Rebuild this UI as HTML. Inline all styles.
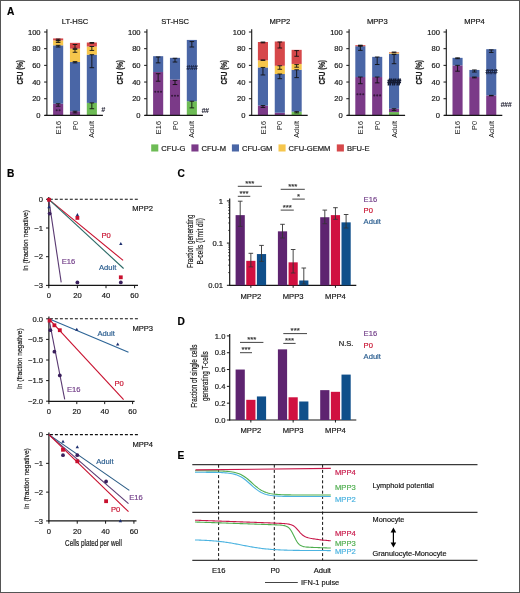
<!DOCTYPE html>
<html><head><meta charset="utf-8"><style>
html,body{margin:0;padding:0;background:#fff;}
body{width:520px;height:593px;overflow:hidden;}
svg{display:block;font-family:"Liberation Sans", sans-serif;will-change:transform;}
</style></head><body>
<svg width="520" height="593" viewBox="0 0 520 593">
<rect x="0" y="0" width="520" height="593" fill="#fff"/>
<text x="75.10" y="23.70" font-size="7.6" text-anchor="middle" fill="#161616" stroke="#161616" stroke-width="0.18" font-weight="normal" >LT-HSC</text>
<line x1="46.90" y1="29.20" x2="46.90" y2="115.90" stroke="#161616" stroke-width="1.1" />
<line x1="44.10" y1="115.40" x2="46.90" y2="115.40" stroke="#161616" stroke-width="1" />
<text x="40.60" y="118.00" font-size="7.6" text-anchor="end" fill="#161616" stroke="#161616" stroke-width="0.18" font-weight="normal" >0</text>
<line x1="44.10" y1="98.72" x2="46.90" y2="98.72" stroke="#161616" stroke-width="1" />
<text x="40.60" y="101.32" font-size="7.6" text-anchor="end" fill="#161616" stroke="#161616" stroke-width="0.18" font-weight="normal" >20</text>
<line x1="44.10" y1="82.04" x2="46.90" y2="82.04" stroke="#161616" stroke-width="1" />
<text x="40.60" y="84.64" font-size="7.6" text-anchor="end" fill="#161616" stroke="#161616" stroke-width="0.18" font-weight="normal" >40</text>
<line x1="44.10" y1="65.36" x2="46.90" y2="65.36" stroke="#161616" stroke-width="1" />
<text x="40.60" y="67.96" font-size="7.6" text-anchor="end" fill="#161616" stroke="#161616" stroke-width="0.18" font-weight="normal" >60</text>
<line x1="44.10" y1="48.68" x2="46.90" y2="48.68" stroke="#161616" stroke-width="1" />
<text x="40.60" y="51.28" font-size="7.6" text-anchor="end" fill="#161616" stroke="#161616" stroke-width="0.18" font-weight="normal" >80</text>
<line x1="44.10" y1="32.00" x2="46.90" y2="32.00" stroke="#161616" stroke-width="1" />
<text x="40.60" y="34.60" font-size="7.6" text-anchor="end" fill="#161616" stroke="#161616" stroke-width="0.18" font-weight="normal" >100</text>
<text transform="translate(22.50,72.30) rotate(-90)" x="0" y="0" font-size="8.6" text-anchor="middle" fill="#161616" stroke="#161616" stroke-width="0.18" font-weight="bold" textLength="24.4" lengthAdjust="spacingAndGlyphs">CFU (%)</text>
<rect x="53.10" y="103.72" width="10.10" height="11.68" fill="#7b3a88"/>
<rect x="53.10" y="45.34" width="10.10" height="58.38" fill="#4a66a6"/>
<rect x="53.10" y="40.34" width="10.10" height="5.00" fill="#f6c64c"/>
<rect x="53.10" y="38.42" width="10.10" height="1.92" fill="#d6484a"/>
<rect x="69.95" y="111.23" width="10.10" height="4.17" fill="#7b3a88"/>
<rect x="69.95" y="62.02" width="10.10" height="49.21" fill="#4a66a6"/>
<rect x="69.95" y="48.68" width="10.10" height="13.34" fill="#f6c64c"/>
<rect x="69.95" y="42.84" width="10.10" height="5.84" fill="#d6484a"/>
<rect x="86.80" y="102.89" width="10.10" height="12.51" fill="#6dbb55"/>
<rect x="86.80" y="54.68" width="10.10" height="48.21" fill="#4a66a6"/>
<rect x="86.80" y="46.51" width="10.10" height="8.17" fill="#f6c64c"/>
<rect x="86.80" y="42.51" width="10.10" height="4.00" fill="#d6484a"/>
<line x1="58.15" y1="39.09" x2="58.15" y2="40.34" stroke="#111" stroke-width="0.9" />
<line x1="55.85" y1="39.09" x2="60.45" y2="39.09" stroke="#111" stroke-width="0.9" />
<line x1="55.85" y1="40.34" x2="60.45" y2="40.34" stroke="#111" stroke-width="0.9" />
<line x1="58.15" y1="40.76" x2="58.15" y2="42.43" stroke="#111" stroke-width="0.9" />
<line x1="55.85" y1="40.76" x2="60.45" y2="40.76" stroke="#111" stroke-width="0.9" />
<line x1="55.85" y1="42.43" x2="60.45" y2="42.43" stroke="#111" stroke-width="0.9" />
<line x1="58.15" y1="45.34" x2="58.15" y2="47.01" stroke="#111" stroke-width="0.9" />
<line x1="55.85" y1="45.34" x2="60.45" y2="45.34" stroke="#111" stroke-width="0.9" />
<line x1="55.85" y1="47.01" x2="60.45" y2="47.01" stroke="#111" stroke-width="0.9" />
<line x1="58.15" y1="103.72" x2="58.15" y2="106.23" stroke="#111" stroke-width="0.9" />
<line x1="55.85" y1="103.72" x2="60.45" y2="103.72" stroke="#111" stroke-width="0.9" />
<line x1="55.85" y1="106.23" x2="60.45" y2="106.23" stroke="#111" stroke-width="0.9" />
<line x1="75.00" y1="44.51" x2="75.00" y2="48.35" stroke="#111" stroke-width="0.9" />
<line x1="72.70" y1="44.51" x2="77.30" y2="44.51" stroke="#111" stroke-width="0.9" />
<line x1="72.70" y1="48.35" x2="77.30" y2="48.35" stroke="#111" stroke-width="0.9" />
<line x1="75.00" y1="49.43" x2="75.00" y2="52.27" stroke="#111" stroke-width="0.9" />
<line x1="72.70" y1="49.43" x2="77.30" y2="49.43" stroke="#111" stroke-width="0.9" />
<line x1="72.70" y1="52.27" x2="77.30" y2="52.27" stroke="#111" stroke-width="0.9" />
<line x1="75.00" y1="61.61" x2="75.00" y2="62.86" stroke="#111" stroke-width="0.9" />
<line x1="72.70" y1="61.61" x2="77.30" y2="61.61" stroke="#111" stroke-width="0.9" />
<line x1="72.70" y1="62.86" x2="77.30" y2="62.86" stroke="#111" stroke-width="0.9" />
<line x1="75.00" y1="111.23" x2="75.00" y2="112.90" stroke="#111" stroke-width="0.9" />
<line x1="72.70" y1="111.23" x2="77.30" y2="111.23" stroke="#111" stroke-width="0.9" />
<line x1="72.70" y1="112.90" x2="77.30" y2="112.90" stroke="#111" stroke-width="0.9" />
<line x1="91.85" y1="42.51" x2="91.85" y2="43.26" stroke="#111" stroke-width="0.9" />
<line x1="89.55" y1="42.51" x2="94.15" y2="42.51" stroke="#111" stroke-width="0.9" />
<line x1="89.55" y1="43.26" x2="94.15" y2="43.26" stroke="#111" stroke-width="0.9" />
<line x1="91.85" y1="46.51" x2="91.85" y2="50.43" stroke="#111" stroke-width="0.9" />
<line x1="89.55" y1="46.51" x2="94.15" y2="46.51" stroke="#111" stroke-width="0.9" />
<line x1="89.55" y1="50.43" x2="94.15" y2="50.43" stroke="#111" stroke-width="0.9" />
<line x1="91.85" y1="54.68" x2="91.85" y2="67.70" stroke="#111" stroke-width="0.9" />
<line x1="89.55" y1="54.68" x2="94.15" y2="54.68" stroke="#111" stroke-width="0.9" />
<line x1="89.55" y1="67.70" x2="94.15" y2="67.70" stroke="#111" stroke-width="0.9" />
<line x1="91.85" y1="102.89" x2="91.85" y2="108.73" stroke="#111" stroke-width="0.9" />
<line x1="89.55" y1="102.89" x2="94.15" y2="102.89" stroke="#111" stroke-width="0.9" />
<line x1="89.55" y1="108.73" x2="94.15" y2="108.73" stroke="#111" stroke-width="0.9" />
<circle cx="56.70" cy="110.30" r="1.05" fill="#2a1430" opacity="0.85"/>
<circle cx="59.60" cy="110.30" r="1.05" fill="#2a1430" opacity="0.85"/>
<circle cx="75.00" cy="112.30" r="1.05" fill="#2a1430" opacity="0.85"/>
<text x="101.20" y="112.10" font-size="7.0" fill="#222233" stroke="#222233" stroke-width="0.05" font-weight="bold" font-style="italic" letter-spacing="-0.3">#</text>
<line x1="44.70" y1="115.40" x2="102.90" y2="115.40" stroke="#161616" stroke-width="1.2" />
<text transform="translate(60.75,121) rotate(-90)" font-size="7.4" text-anchor="end" fill="#161616">E16</text>
<text transform="translate(77.60,121) rotate(-90)" font-size="7.4" text-anchor="end" fill="#161616">P0</text>
<text transform="translate(94.45,121) rotate(-90)" font-size="7.4" text-anchor="end" fill="#161616">Adult</text>
<text x="175.10" y="23.70" font-size="7.6" text-anchor="middle" fill="#161616" stroke="#161616" stroke-width="0.18" font-weight="normal" >ST-HSC</text>
<line x1="146.90" y1="29.20" x2="146.90" y2="115.90" stroke="#161616" stroke-width="1.1" />
<line x1="144.10" y1="115.40" x2="146.90" y2="115.40" stroke="#161616" stroke-width="1" />
<text x="140.60" y="118.00" font-size="7.6" text-anchor="end" fill="#161616" stroke="#161616" stroke-width="0.18" font-weight="normal" >0</text>
<line x1="144.10" y1="98.72" x2="146.90" y2="98.72" stroke="#161616" stroke-width="1" />
<text x="140.60" y="101.32" font-size="7.6" text-anchor="end" fill="#161616" stroke="#161616" stroke-width="0.18" font-weight="normal" >20</text>
<line x1="144.10" y1="82.04" x2="146.90" y2="82.04" stroke="#161616" stroke-width="1" />
<text x="140.60" y="84.64" font-size="7.6" text-anchor="end" fill="#161616" stroke="#161616" stroke-width="0.18" font-weight="normal" >40</text>
<line x1="144.10" y1="65.36" x2="146.90" y2="65.36" stroke="#161616" stroke-width="1" />
<text x="140.60" y="67.96" font-size="7.6" text-anchor="end" fill="#161616" stroke="#161616" stroke-width="0.18" font-weight="normal" >60</text>
<line x1="144.10" y1="48.68" x2="146.90" y2="48.68" stroke="#161616" stroke-width="1" />
<text x="140.60" y="51.28" font-size="7.6" text-anchor="end" fill="#161616" stroke="#161616" stroke-width="0.18" font-weight="normal" >80</text>
<line x1="144.10" y1="32.00" x2="146.90" y2="32.00" stroke="#161616" stroke-width="1" />
<text x="140.60" y="34.60" font-size="7.6" text-anchor="end" fill="#161616" stroke="#161616" stroke-width="0.18" font-weight="normal" >100</text>
<text transform="translate(122.50,72.30) rotate(-90)" x="0" y="0" font-size="8.6" text-anchor="middle" fill="#161616" stroke="#161616" stroke-width="0.18" font-weight="bold" textLength="24.4" lengthAdjust="spacingAndGlyphs">CFU (%)</text>
<rect x="153.10" y="72.03" width="10.10" height="43.37" fill="#7b3a88"/>
<rect x="153.10" y="56.19" width="10.10" height="15.85" fill="#4a66a6"/>
<rect x="169.95" y="79.54" width="10.10" height="35.86" fill="#7b3a88"/>
<rect x="169.95" y="57.85" width="10.10" height="21.68" fill="#4a66a6"/>
<rect x="186.80" y="101.22" width="10.10" height="14.18" fill="#6dbb55"/>
<rect x="186.80" y="39.92" width="10.10" height="61.30" fill="#4a66a6"/>
<line x1="158.15" y1="57.02" x2="158.15" y2="62.86" stroke="#111" stroke-width="0.9" />
<line x1="155.85" y1="57.02" x2="160.45" y2="57.02" stroke="#111" stroke-width="0.9" />
<line x1="155.85" y1="62.86" x2="160.45" y2="62.86" stroke="#111" stroke-width="0.9" />
<line x1="158.15" y1="73.70" x2="158.15" y2="81.21" stroke="#111" stroke-width="0.9" />
<line x1="155.85" y1="73.70" x2="160.45" y2="73.70" stroke="#111" stroke-width="0.9" />
<line x1="155.85" y1="81.21" x2="160.45" y2="81.21" stroke="#111" stroke-width="0.9" />
<line x1="175.00" y1="58.27" x2="175.00" y2="62.02" stroke="#111" stroke-width="0.9" />
<line x1="172.70" y1="58.27" x2="177.30" y2="58.27" stroke="#111" stroke-width="0.9" />
<line x1="172.70" y1="62.02" x2="177.30" y2="62.02" stroke="#111" stroke-width="0.9" />
<line x1="175.00" y1="80.37" x2="175.00" y2="84.54" stroke="#111" stroke-width="0.9" />
<line x1="172.70" y1="80.37" x2="177.30" y2="80.37" stroke="#111" stroke-width="0.9" />
<line x1="172.70" y1="84.54" x2="177.30" y2="84.54" stroke="#111" stroke-width="0.9" />
<line x1="191.85" y1="41.59" x2="191.85" y2="47.01" stroke="#111" stroke-width="0.9" />
<line x1="189.55" y1="41.59" x2="194.15" y2="41.59" stroke="#111" stroke-width="0.9" />
<line x1="189.55" y1="47.01" x2="194.15" y2="47.01" stroke="#111" stroke-width="0.9" />
<line x1="191.85" y1="101.22" x2="191.85" y2="107.89" stroke="#111" stroke-width="0.9" />
<line x1="189.55" y1="101.22" x2="194.15" y2="101.22" stroke="#111" stroke-width="0.9" />
<line x1="189.55" y1="107.89" x2="194.15" y2="107.89" stroke="#111" stroke-width="0.9" />
<circle cx="155.25" cy="91.80" r="1.05" fill="#2a1430" opacity="0.85"/>
<circle cx="158.15" cy="91.80" r="1.05" fill="#2a1430" opacity="0.85"/>
<circle cx="161.05" cy="91.80" r="1.05" fill="#2a1430" opacity="0.85"/>
<circle cx="172.10" cy="95.80" r="1.05" fill="#2a1430" opacity="0.85"/>
<circle cx="175.00" cy="95.80" r="1.05" fill="#2a1430" opacity="0.85"/>
<circle cx="177.90" cy="95.80" r="1.05" fill="#2a1430" opacity="0.85"/>
<text x="191.85" y="70.10" font-size="7.2" text-anchor="middle" fill="#141a33" stroke="#141a33" stroke-width="0.05" font-weight="bold" font-style="italic" letter-spacing="-0.2">###</text>
<text x="201.40" y="112.70" font-size="7.0" fill="#222233" stroke="#222233" stroke-width="0.05" font-weight="bold" font-style="italic" letter-spacing="-0.3">##</text>
<line x1="144.70" y1="115.40" x2="202.90" y2="115.40" stroke="#161616" stroke-width="1.2" />
<text transform="translate(160.75,121) rotate(-90)" font-size="7.4" text-anchor="end" fill="#161616">E16</text>
<text transform="translate(177.60,121) rotate(-90)" font-size="7.4" text-anchor="end" fill="#161616">P0</text>
<text transform="translate(194.45,121) rotate(-90)" font-size="7.4" text-anchor="end" fill="#161616">Adult</text>
<text x="279.90" y="23.70" font-size="7.6" text-anchor="middle" fill="#161616" stroke="#161616" stroke-width="0.18" font-weight="normal" >MPP2</text>
<line x1="251.70" y1="29.20" x2="251.70" y2="115.90" stroke="#161616" stroke-width="1.1" />
<line x1="248.90" y1="115.40" x2="251.70" y2="115.40" stroke="#161616" stroke-width="1" />
<text x="245.40" y="118.00" font-size="7.6" text-anchor="end" fill="#161616" stroke="#161616" stroke-width="0.18" font-weight="normal" >0</text>
<line x1="248.90" y1="98.72" x2="251.70" y2="98.72" stroke="#161616" stroke-width="1" />
<text x="245.40" y="101.32" font-size="7.6" text-anchor="end" fill="#161616" stroke="#161616" stroke-width="0.18" font-weight="normal" >20</text>
<line x1="248.90" y1="82.04" x2="251.70" y2="82.04" stroke="#161616" stroke-width="1" />
<text x="245.40" y="84.64" font-size="7.6" text-anchor="end" fill="#161616" stroke="#161616" stroke-width="0.18" font-weight="normal" >40</text>
<line x1="248.90" y1="65.36" x2="251.70" y2="65.36" stroke="#161616" stroke-width="1" />
<text x="245.40" y="67.96" font-size="7.6" text-anchor="end" fill="#161616" stroke="#161616" stroke-width="0.18" font-weight="normal" >60</text>
<line x1="248.90" y1="48.68" x2="251.70" y2="48.68" stroke="#161616" stroke-width="1" />
<text x="245.40" y="51.28" font-size="7.6" text-anchor="end" fill="#161616" stroke="#161616" stroke-width="0.18" font-weight="normal" >80</text>
<line x1="248.90" y1="32.00" x2="251.70" y2="32.00" stroke="#161616" stroke-width="1" />
<text x="245.40" y="34.60" font-size="7.6" text-anchor="end" fill="#161616" stroke="#161616" stroke-width="0.18" font-weight="normal" >100</text>
<text transform="translate(227.30,72.30) rotate(-90)" x="0" y="0" font-size="8.6" text-anchor="middle" fill="#161616" stroke="#161616" stroke-width="0.18" font-weight="bold" textLength="24.4" lengthAdjust="spacingAndGlyphs">CFU (%)</text>
<rect x="257.90" y="105.56" width="10.10" height="9.84" fill="#7b3a88"/>
<rect x="257.90" y="67.45" width="10.10" height="38.11" fill="#4a66a6"/>
<rect x="257.90" y="60.36" width="10.10" height="7.09" fill="#f6c64c"/>
<rect x="257.90" y="42.01" width="10.10" height="18.35" fill="#d6484a"/>
<rect x="274.75" y="112.73" width="10.10" height="2.67" fill="#7b3a88"/>
<rect x="274.75" y="74.03" width="10.10" height="38.70" fill="#4a66a6"/>
<rect x="274.75" y="65.78" width="10.10" height="8.26" fill="#f6c64c"/>
<rect x="274.75" y="41.51" width="10.10" height="24.27" fill="#d6484a"/>
<rect x="291.60" y="111.65" width="10.10" height="3.75" fill="#6dbb55"/>
<rect x="291.60" y="69.78" width="10.10" height="41.87" fill="#4a66a6"/>
<rect x="291.60" y="63.94" width="10.10" height="5.84" fill="#f6c64c"/>
<rect x="291.60" y="49.85" width="10.10" height="14.09" fill="#d6484a"/>
<line x1="262.95" y1="42.01" x2="262.95" y2="42.84" stroke="#111" stroke-width="0.9" />
<line x1="260.65" y1="42.01" x2="265.25" y2="42.01" stroke="#111" stroke-width="0.9" />
<line x1="260.65" y1="42.84" x2="265.25" y2="42.84" stroke="#111" stroke-width="0.9" />
<line x1="262.95" y1="59.94" x2="262.95" y2="60.36" stroke="#111" stroke-width="0.9" />
<line x1="260.65" y1="59.94" x2="265.25" y2="59.94" stroke="#111" stroke-width="0.9" />
<line x1="260.65" y1="60.36" x2="265.25" y2="60.36" stroke="#111" stroke-width="0.9" />
<line x1="262.95" y1="67.45" x2="262.95" y2="74.95" stroke="#111" stroke-width="0.9" />
<line x1="260.65" y1="67.45" x2="265.25" y2="67.45" stroke="#111" stroke-width="0.9" />
<line x1="260.65" y1="74.95" x2="265.25" y2="74.95" stroke="#111" stroke-width="0.9" />
<line x1="262.95" y1="105.56" x2="262.95" y2="107.48" stroke="#111" stroke-width="0.9" />
<line x1="260.65" y1="105.56" x2="265.25" y2="105.56" stroke="#111" stroke-width="0.9" />
<line x1="260.65" y1="107.48" x2="265.25" y2="107.48" stroke="#111" stroke-width="0.9" />
<line x1="279.80" y1="42.01" x2="279.80" y2="48.01" stroke="#111" stroke-width="0.9" />
<line x1="277.50" y1="42.01" x2="282.10" y2="42.01" stroke="#111" stroke-width="0.9" />
<line x1="277.50" y1="48.01" x2="282.10" y2="48.01" stroke="#111" stroke-width="0.9" />
<line x1="279.80" y1="65.78" x2="279.80" y2="69.28" stroke="#111" stroke-width="0.9" />
<line x1="277.50" y1="65.78" x2="282.10" y2="65.78" stroke="#111" stroke-width="0.9" />
<line x1="277.50" y1="69.28" x2="282.10" y2="69.28" stroke="#111" stroke-width="0.9" />
<line x1="279.80" y1="74.03" x2="279.80" y2="78.70" stroke="#111" stroke-width="0.9" />
<line x1="277.50" y1="74.03" x2="282.10" y2="74.03" stroke="#111" stroke-width="0.9" />
<line x1="277.50" y1="78.70" x2="282.10" y2="78.70" stroke="#111" stroke-width="0.9" />
<line x1="296.65" y1="50.60" x2="296.65" y2="56.27" stroke="#111" stroke-width="0.9" />
<line x1="294.35" y1="50.60" x2="298.95" y2="50.60" stroke="#111" stroke-width="0.9" />
<line x1="294.35" y1="56.27" x2="298.95" y2="56.27" stroke="#111" stroke-width="0.9" />
<line x1="296.65" y1="64.61" x2="296.65" y2="67.19" stroke="#111" stroke-width="0.9" />
<line x1="294.35" y1="64.61" x2="298.95" y2="64.61" stroke="#111" stroke-width="0.9" />
<line x1="294.35" y1="67.19" x2="298.95" y2="67.19" stroke="#111" stroke-width="0.9" />
<line x1="296.65" y1="69.78" x2="296.65" y2="77.62" stroke="#111" stroke-width="0.9" />
<line x1="294.35" y1="69.78" x2="298.95" y2="69.78" stroke="#111" stroke-width="0.9" />
<line x1="294.35" y1="77.62" x2="298.95" y2="77.62" stroke="#111" stroke-width="0.9" />
<line x1="296.65" y1="111.65" x2="296.65" y2="112.90" stroke="#111" stroke-width="0.9" />
<line x1="294.35" y1="111.65" x2="298.95" y2="111.65" stroke="#111" stroke-width="0.9" />
<line x1="294.35" y1="112.90" x2="298.95" y2="112.90" stroke="#111" stroke-width="0.9" />
<line x1="249.50" y1="115.40" x2="307.70" y2="115.40" stroke="#161616" stroke-width="1.2" />
<text transform="translate(265.55,121) rotate(-90)" font-size="7.4" text-anchor="end" fill="#161616">E16</text>
<text transform="translate(282.40,121) rotate(-90)" font-size="7.4" text-anchor="end" fill="#161616">P0</text>
<text transform="translate(299.25,121) rotate(-90)" font-size="7.4" text-anchor="end" fill="#161616">Adult</text>
<text x="377.30" y="23.70" font-size="7.6" text-anchor="middle" fill="#161616" stroke="#161616" stroke-width="0.18" font-weight="normal" >MPP3</text>
<line x1="349.10" y1="29.20" x2="349.10" y2="115.90" stroke="#161616" stroke-width="1.1" />
<line x1="346.30" y1="115.40" x2="349.10" y2="115.40" stroke="#161616" stroke-width="1" />
<text x="342.80" y="118.00" font-size="7.6" text-anchor="end" fill="#161616" stroke="#161616" stroke-width="0.18" font-weight="normal" >0</text>
<line x1="346.30" y1="98.72" x2="349.10" y2="98.72" stroke="#161616" stroke-width="1" />
<text x="342.80" y="101.32" font-size="7.6" text-anchor="end" fill="#161616" stroke="#161616" stroke-width="0.18" font-weight="normal" >20</text>
<line x1="346.30" y1="82.04" x2="349.10" y2="82.04" stroke="#161616" stroke-width="1" />
<text x="342.80" y="84.64" font-size="7.6" text-anchor="end" fill="#161616" stroke="#161616" stroke-width="0.18" font-weight="normal" >40</text>
<line x1="346.30" y1="65.36" x2="349.10" y2="65.36" stroke="#161616" stroke-width="1" />
<text x="342.80" y="67.96" font-size="7.6" text-anchor="end" fill="#161616" stroke="#161616" stroke-width="0.18" font-weight="normal" >60</text>
<line x1="346.30" y1="48.68" x2="349.10" y2="48.68" stroke="#161616" stroke-width="1" />
<text x="342.80" y="51.28" font-size="7.6" text-anchor="end" fill="#161616" stroke="#161616" stroke-width="0.18" font-weight="normal" >80</text>
<line x1="346.30" y1="32.00" x2="349.10" y2="32.00" stroke="#161616" stroke-width="1" />
<text x="342.80" y="34.60" font-size="7.6" text-anchor="end" fill="#161616" stroke="#161616" stroke-width="0.18" font-weight="normal" >100</text>
<text transform="translate(324.70,72.30) rotate(-90)" x="0" y="0" font-size="8.6" text-anchor="middle" fill="#161616" stroke="#161616" stroke-width="0.18" font-weight="bold" textLength="24.4" lengthAdjust="spacingAndGlyphs">CFU (%)</text>
<rect x="355.30" y="77.04" width="10.10" height="38.36" fill="#7b3a88"/>
<rect x="355.30" y="46.18" width="10.10" height="30.86" fill="#4a66a6"/>
<rect x="355.30" y="45.18" width="10.10" height="1.00" fill="#d6484a"/>
<rect x="372.15" y="77.04" width="10.10" height="38.36" fill="#7b3a88"/>
<rect x="372.15" y="56.85" width="10.10" height="20.18" fill="#4a66a6"/>
<rect x="389.00" y="112.06" width="10.10" height="3.34" fill="#6dbb55"/>
<rect x="389.00" y="108.73" width="10.10" height="3.34" fill="#7b3a88"/>
<rect x="389.00" y="53.68" width="10.10" height="55.04" fill="#4a66a6"/>
<rect x="389.00" y="52.52" width="10.10" height="1.17" fill="#f6c64c"/>
<rect x="389.00" y="52.02" width="10.10" height="0.50" fill="#d6484a"/>
<line x1="360.35" y1="45.18" x2="360.35" y2="45.76" stroke="#111" stroke-width="0.9" />
<line x1="358.05" y1="45.18" x2="362.65" y2="45.18" stroke="#111" stroke-width="0.9" />
<line x1="358.05" y1="45.76" x2="362.65" y2="45.76" stroke="#111" stroke-width="0.9" />
<line x1="360.35" y1="46.18" x2="360.35" y2="50.35" stroke="#111" stroke-width="0.9" />
<line x1="358.05" y1="46.18" x2="362.65" y2="46.18" stroke="#111" stroke-width="0.9" />
<line x1="358.05" y1="50.35" x2="362.65" y2="50.35" stroke="#111" stroke-width="0.9" />
<line x1="360.35" y1="77.04" x2="360.35" y2="83.71" stroke="#111" stroke-width="0.9" />
<line x1="358.05" y1="77.04" x2="362.65" y2="77.04" stroke="#111" stroke-width="0.9" />
<line x1="358.05" y1="83.71" x2="362.65" y2="83.71" stroke="#111" stroke-width="0.9" />
<line x1="377.20" y1="57.02" x2="377.20" y2="64.53" stroke="#111" stroke-width="0.9" />
<line x1="374.90" y1="57.02" x2="379.50" y2="57.02" stroke="#111" stroke-width="0.9" />
<line x1="374.90" y1="64.53" x2="379.50" y2="64.53" stroke="#111" stroke-width="0.9" />
<line x1="377.20" y1="77.04" x2="377.20" y2="82.87" stroke="#111" stroke-width="0.9" />
<line x1="374.90" y1="77.04" x2="379.50" y2="77.04" stroke="#111" stroke-width="0.9" />
<line x1="374.90" y1="82.87" x2="379.50" y2="82.87" stroke="#111" stroke-width="0.9" />
<line x1="394.05" y1="52.02" x2="394.05" y2="52.85" stroke="#111" stroke-width="0.9" />
<line x1="391.75" y1="52.02" x2="396.35" y2="52.02" stroke="#111" stroke-width="0.9" />
<line x1="391.75" y1="52.85" x2="396.35" y2="52.85" stroke="#111" stroke-width="0.9" />
<line x1="394.05" y1="54.52" x2="394.05" y2="63.69" stroke="#111" stroke-width="0.9" />
<line x1="391.75" y1="54.52" x2="396.35" y2="54.52" stroke="#111" stroke-width="0.9" />
<line x1="391.75" y1="63.69" x2="396.35" y2="63.69" stroke="#111" stroke-width="0.9" />
<line x1="394.05" y1="108.73" x2="394.05" y2="110.40" stroke="#111" stroke-width="0.9" />
<line x1="391.75" y1="108.73" x2="396.35" y2="108.73" stroke="#111" stroke-width="0.9" />
<line x1="391.75" y1="110.40" x2="396.35" y2="110.40" stroke="#111" stroke-width="0.9" />
<circle cx="357.45" cy="94.30" r="1.05" fill="#2a1430" opacity="0.85"/>
<circle cx="360.35" cy="94.30" r="1.05" fill="#2a1430" opacity="0.85"/>
<circle cx="363.25" cy="94.30" r="1.05" fill="#2a1430" opacity="0.85"/>
<circle cx="374.30" cy="95.40" r="1.05" fill="#2a1430" opacity="0.85"/>
<circle cx="377.20" cy="95.40" r="1.05" fill="#2a1430" opacity="0.85"/>
<circle cx="380.10" cy="95.40" r="1.05" fill="#2a1430" opacity="0.85"/>
<text x="394.05" y="85.10" font-size="8.2" text-anchor="middle" fill="#141a33" stroke="#141a33" stroke-width="0.9" font-weight="bold" font-style="italic" letter-spacing="-0.2">###</text>
<line x1="346.90" y1="115.40" x2="405.10" y2="115.40" stroke="#161616" stroke-width="1.2" />
<text transform="translate(362.95,121) rotate(-90)" font-size="7.4" text-anchor="end" fill="#161616">E16</text>
<text transform="translate(379.80,121) rotate(-90)" font-size="7.4" text-anchor="end" fill="#161616">P0</text>
<text transform="translate(396.65,121) rotate(-90)" font-size="7.4" text-anchor="end" fill="#161616">Adult</text>
<text x="474.50" y="23.70" font-size="7.6" text-anchor="middle" fill="#161616" stroke="#161616" stroke-width="0.18" font-weight="normal" >MPP4</text>
<line x1="446.30" y1="29.20" x2="446.30" y2="115.90" stroke="#161616" stroke-width="1.1" />
<line x1="443.50" y1="115.40" x2="446.30" y2="115.40" stroke="#161616" stroke-width="1" />
<text x="440.00" y="118.00" font-size="7.6" text-anchor="end" fill="#161616" stroke="#161616" stroke-width="0.18" font-weight="normal" >0</text>
<line x1="443.50" y1="98.72" x2="446.30" y2="98.72" stroke="#161616" stroke-width="1" />
<text x="440.00" y="101.32" font-size="7.6" text-anchor="end" fill="#161616" stroke="#161616" stroke-width="0.18" font-weight="normal" >20</text>
<line x1="443.50" y1="82.04" x2="446.30" y2="82.04" stroke="#161616" stroke-width="1" />
<text x="440.00" y="84.64" font-size="7.6" text-anchor="end" fill="#161616" stroke="#161616" stroke-width="0.18" font-weight="normal" >40</text>
<line x1="443.50" y1="65.36" x2="446.30" y2="65.36" stroke="#161616" stroke-width="1" />
<text x="440.00" y="67.96" font-size="7.6" text-anchor="end" fill="#161616" stroke="#161616" stroke-width="0.18" font-weight="normal" >60</text>
<line x1="443.50" y1="48.68" x2="446.30" y2="48.68" stroke="#161616" stroke-width="1" />
<text x="440.00" y="51.28" font-size="7.6" text-anchor="end" fill="#161616" stroke="#161616" stroke-width="0.18" font-weight="normal" >80</text>
<line x1="443.50" y1="32.00" x2="446.30" y2="32.00" stroke="#161616" stroke-width="1" />
<text x="440.00" y="34.60" font-size="7.6" text-anchor="end" fill="#161616" stroke="#161616" stroke-width="0.18" font-weight="normal" >100</text>
<text transform="translate(421.90,72.30) rotate(-90)" x="0" y="0" font-size="8.6" text-anchor="middle" fill="#161616" stroke="#161616" stroke-width="0.18" font-weight="bold" textLength="24.4" lengthAdjust="spacingAndGlyphs">CFU (%)</text>
<rect x="452.50" y="114.98" width="10.10" height="0.42" fill="#6dbb55"/>
<rect x="452.50" y="65.36" width="10.10" height="49.62" fill="#7b3a88"/>
<rect x="452.50" y="57.85" width="10.10" height="7.51" fill="#4a66a6"/>
<rect x="469.35" y="77.04" width="10.10" height="38.36" fill="#7b3a88"/>
<rect x="469.35" y="69.95" width="10.10" height="7.09" fill="#4a66a6"/>
<rect x="486.20" y="95.38" width="10.10" height="20.02" fill="#7b3a88"/>
<rect x="486.20" y="49.18" width="10.10" height="46.20" fill="#4a66a6"/>
<line x1="457.55" y1="57.85" x2="457.55" y2="58.69" stroke="#111" stroke-width="0.9" />
<line x1="455.25" y1="57.85" x2="459.85" y2="57.85" stroke="#111" stroke-width="0.9" />
<line x1="455.25" y1="58.69" x2="459.85" y2="58.69" stroke="#111" stroke-width="0.9" />
<line x1="457.55" y1="65.36" x2="457.55" y2="71.20" stroke="#111" stroke-width="0.9" />
<line x1="455.25" y1="65.36" x2="459.85" y2="65.36" stroke="#111" stroke-width="0.9" />
<line x1="455.25" y1="71.20" x2="459.85" y2="71.20" stroke="#111" stroke-width="0.9" />
<line x1="474.40" y1="69.95" x2="474.40" y2="72.03" stroke="#111" stroke-width="0.9" />
<line x1="472.10" y1="69.95" x2="476.70" y2="69.95" stroke="#111" stroke-width="0.9" />
<line x1="472.10" y1="72.03" x2="476.70" y2="72.03" stroke="#111" stroke-width="0.9" />
<line x1="474.40" y1="77.04" x2="474.40" y2="77.87" stroke="#111" stroke-width="0.9" />
<line x1="472.10" y1="77.04" x2="476.70" y2="77.04" stroke="#111" stroke-width="0.9" />
<line x1="472.10" y1="77.87" x2="476.70" y2="77.87" stroke="#111" stroke-width="0.9" />
<line x1="491.25" y1="49.93" x2="491.25" y2="52.43" stroke="#111" stroke-width="0.9" />
<line x1="488.95" y1="49.93" x2="493.55" y2="49.93" stroke="#111" stroke-width="0.9" />
<line x1="488.95" y1="52.43" x2="493.55" y2="52.43" stroke="#111" stroke-width="0.9" />
<line x1="491.25" y1="95.38" x2="491.25" y2="95.80" stroke="#111" stroke-width="0.9" />
<line x1="488.95" y1="95.38" x2="493.55" y2="95.38" stroke="#111" stroke-width="0.9" />
<line x1="488.95" y1="95.80" x2="493.55" y2="95.80" stroke="#111" stroke-width="0.9" />
<text x="491.25" y="74.40" font-size="7.4" text-anchor="middle" fill="#141a33" stroke="#141a33" stroke-width="0.25" font-weight="bold" font-style="italic" letter-spacing="-0.2">###</text>
<text x="500.50" y="107.00" font-size="7.0" fill="#222233" stroke="#222233" stroke-width="0.05" font-weight="bold" font-style="italic" letter-spacing="-0.3">###</text>
<line x1="444.10" y1="115.40" x2="502.30" y2="115.40" stroke="#161616" stroke-width="1.2" />
<text transform="translate(460.15,121) rotate(-90)" font-size="7.4" text-anchor="end" fill="#161616">E16</text>
<text transform="translate(477.00,121) rotate(-90)" font-size="7.4" text-anchor="end" fill="#161616">P0</text>
<text transform="translate(493.85,121) rotate(-90)" font-size="7.4" text-anchor="end" fill="#161616">Adult</text>
<rect x="151.20" y="144.40" width="7.10" height="7.10" fill="#6dbb55"/>
<text x="161.30" y="150.90" font-size="7.6" text-anchor="start" fill="#161616" stroke="#161616" stroke-width="0.18" font-weight="normal" >CFU-G</text>
<rect x="191.40" y="144.40" width="7.10" height="7.10" fill="#7b3a88"/>
<text x="201.50" y="150.90" font-size="7.6" text-anchor="start" fill="#161616" stroke="#161616" stroke-width="0.18" font-weight="normal" >CFU-M</text>
<rect x="231.90" y="144.40" width="7.10" height="7.10" fill="#4a66a6"/>
<text x="242.00" y="150.90" font-size="7.6" text-anchor="start" fill="#161616" stroke="#161616" stroke-width="0.18" font-weight="normal" >CFU-GM</text>
<rect x="278.50" y="144.40" width="7.10" height="7.10" fill="#f6c64c"/>
<text x="288.60" y="150.90" font-size="7.6" text-anchor="start" fill="#161616" stroke="#161616" stroke-width="0.18" font-weight="normal" >CFU-GEMM</text>
<rect x="336.80" y="144.40" width="7.10" height="7.10" fill="#d6484a"/>
<text x="346.90" y="150.90" font-size="7.6" text-anchor="start" fill="#161616" stroke="#161616" stroke-width="0.18" font-weight="normal" >BFU-E</text>
<text x="7.00" y="15.00" font-size="10.2" text-anchor="start" fill="#000" stroke="#000" stroke-width="0.18" font-weight="bold" >A</text>
<text x="7.00" y="177.20" font-size="10.2" text-anchor="start" fill="#000" stroke="#000" stroke-width="0.18" font-weight="bold" >B</text>
<text x="177.40" y="177.20" font-size="10.2" text-anchor="start" fill="#000" stroke="#000" stroke-width="0.18" font-weight="bold" >C</text>
<text x="177.40" y="324.80" font-size="10.2" text-anchor="start" fill="#000" stroke="#000" stroke-width="0.18" font-weight="bold" >D</text>
<text x="177.60" y="458.90" font-size="10.2" text-anchor="start" fill="#000" stroke="#000" stroke-width="0.18" font-weight="bold" >E</text>
<line x1="49.80" y1="199.30" x2="138.00" y2="199.30" stroke="#111" stroke-width="1.1" stroke-dasharray="3 2"/>
<line x1="48.80" y1="197.10" x2="48.80" y2="285.90" stroke="#161616" stroke-width="1.2" />
<line x1="48.30" y1="285.40" x2="138.00" y2="285.40" stroke="#161616" stroke-width="1.2" />
<line x1="46.00" y1="199.30" x2="48.80" y2="199.30" stroke="#161616" stroke-width="1" />
<text x="43.00" y="202.00" font-size="7.6" text-anchor="end" fill="#161616" stroke="#161616" stroke-width="0.18" font-weight="normal" >0</text>
<line x1="46.00" y1="228.00" x2="48.80" y2="228.00" stroke="#161616" stroke-width="1" />
<text x="43.00" y="230.70" font-size="7.6" text-anchor="end" fill="#161616" stroke="#161616" stroke-width="0.18" font-weight="normal" >−1</text>
<line x1="46.00" y1="256.70" x2="48.80" y2="256.70" stroke="#161616" stroke-width="1" />
<text x="43.00" y="259.40" font-size="7.6" text-anchor="end" fill="#161616" stroke="#161616" stroke-width="0.18" font-weight="normal" >−2</text>
<line x1="46.00" y1="285.40" x2="48.80" y2="285.40" stroke="#161616" stroke-width="1" />
<text x="43.00" y="288.10" font-size="7.6" text-anchor="end" fill="#161616" stroke="#161616" stroke-width="0.18" font-weight="normal" >−3</text>
<line x1="48.80" y1="285.40" x2="48.80" y2="288.20" stroke="#161616" stroke-width="1" />
<text x="48.80" y="297.80" font-size="7.6" text-anchor="middle" fill="#161616" stroke="#161616" stroke-width="0.18" font-weight="normal" >0</text>
<line x1="77.40" y1="285.40" x2="77.40" y2="288.20" stroke="#161616" stroke-width="1" />
<text x="77.40" y="297.80" font-size="7.6" text-anchor="middle" fill="#161616" stroke="#161616" stroke-width="0.18" font-weight="normal" >20</text>
<line x1="106.00" y1="285.40" x2="106.00" y2="288.20" stroke="#161616" stroke-width="1" />
<text x="106.00" y="297.80" font-size="7.6" text-anchor="middle" fill="#161616" stroke="#161616" stroke-width="0.18" font-weight="normal" >40</text>
<line x1="134.60" y1="285.40" x2="134.60" y2="288.20" stroke="#161616" stroke-width="1" />
<text x="134.60" y="297.80" font-size="7.6" text-anchor="middle" fill="#161616" stroke="#161616" stroke-width="0.18" font-weight="normal" >60</text>
<text transform="translate(28.40,240.20) rotate(-90)" x="0" y="0" font-size="7.7" text-anchor="middle" fill="#161616" stroke="#161616" stroke-width="0.18" font-weight="normal" textLength="60.5" lengthAdjust="spacingAndGlyphs">ln (fraction negative)</text>
<text x="132.30" y="210.50" font-size="7.6" text-anchor="start" fill="#161616" stroke="#161616" stroke-width="0.18" font-weight="normal" >MPP2</text>
<line x1="48.80" y1="199.30" x2="123.10" y2="260.40" stroke="#c8102e" stroke-width="1.1" />
<line x1="48.80" y1="199.30" x2="123.60" y2="268.50" stroke="#2a6a66" stroke-width="1.1" />
<line x1="48.80" y1="199.30" x2="61.20" y2="282.40" stroke="#5a3a72" stroke-width="1.1" />
<polygon points="77.40,213.10 79.10,216.16 75.70,216.16" fill="#1d2f6f"/>
<rect x="75.50" y="216.00" width="3.80" height="3.80" fill="#c8102e"/>
<polygon points="120.80,241.90 122.50,244.96 119.10,244.96" fill="#1d2f6f"/>
<rect x="118.90" y="275.40" width="3.80" height="3.80" fill="#c8102e"/>
<circle cx="120.80" cy="282.40" r="1.9" fill="#3a1f5c"/>
<circle cx="77.40" cy="282.40" r="1.9" fill="#3a1f5c"/>
<rect x="47.10" y="197.90" width="3.80" height="3.80" fill="#c8102e"/>
<polygon points="49.00,205.30 50.70,208.36 47.30,208.36" fill="#1d2f6f"/>
<circle cx="49.60" cy="213.60" r="1.9" fill="#3a1f5c"/>
<text x="101.50" y="237.60" font-size="7.6" text-anchor="start" fill="#c8102e" stroke="#c8102e" stroke-width="0.18" font-weight="normal" >P0</text>
<text x="61.80" y="263.60" font-size="7.6" text-anchor="start" fill="#74408a" stroke="#74408a" stroke-width="0.18" font-weight="normal" >E16</text>
<text x="99.00" y="269.70" font-size="7.6" text-anchor="start" fill="#2a5d8f" stroke="#2a5d8f" stroke-width="0.18" font-weight="normal" >Adult</text>
<line x1="49.90" y1="318.80" x2="138.10" y2="318.80" stroke="#111" stroke-width="1.1" stroke-dasharray="3 2"/>
<line x1="48.90" y1="316.60" x2="48.90" y2="401.80" stroke="#161616" stroke-width="1.2" />
<line x1="48.40" y1="401.30" x2="134.60" y2="401.30" stroke="#161616" stroke-width="1.2" />
<line x1="46.10" y1="318.80" x2="48.90" y2="318.80" stroke="#161616" stroke-width="1" />
<text x="43.10" y="321.50" font-size="7.6" text-anchor="end" fill="#161616" stroke="#161616" stroke-width="0.18" font-weight="normal" >0.0</text>
<line x1="46.10" y1="339.40" x2="48.90" y2="339.40" stroke="#161616" stroke-width="1" />
<text x="43.10" y="342.10" font-size="7.6" text-anchor="end" fill="#161616" stroke="#161616" stroke-width="0.18" font-weight="normal" >−0.5</text>
<line x1="46.10" y1="360.00" x2="48.90" y2="360.00" stroke="#161616" stroke-width="1" />
<text x="43.10" y="362.70" font-size="7.6" text-anchor="end" fill="#161616" stroke="#161616" stroke-width="0.18" font-weight="normal" >−1.0</text>
<line x1="46.10" y1="380.60" x2="48.90" y2="380.60" stroke="#161616" stroke-width="1" />
<text x="43.10" y="383.30" font-size="7.6" text-anchor="end" fill="#161616" stroke="#161616" stroke-width="0.18" font-weight="normal" >−1.5</text>
<line x1="46.10" y1="401.20" x2="48.90" y2="401.20" stroke="#161616" stroke-width="1" />
<text x="43.10" y="403.90" font-size="7.6" text-anchor="end" fill="#161616" stroke="#161616" stroke-width="0.18" font-weight="normal" >−2.0</text>
<line x1="48.90" y1="401.30" x2="48.90" y2="404.10" stroke="#161616" stroke-width="1" />
<text x="48.90" y="414.00" font-size="7.6" text-anchor="middle" fill="#161616" stroke="#161616" stroke-width="0.18" font-weight="normal" >0</text>
<line x1="76.80" y1="401.30" x2="76.80" y2="404.10" stroke="#161616" stroke-width="1" />
<text x="76.80" y="414.00" font-size="7.6" text-anchor="middle" fill="#161616" stroke="#161616" stroke-width="0.18" font-weight="normal" >20</text>
<line x1="104.70" y1="401.30" x2="104.70" y2="404.10" stroke="#161616" stroke-width="1" />
<text x="104.70" y="414.00" font-size="7.6" text-anchor="middle" fill="#161616" stroke="#161616" stroke-width="0.18" font-weight="normal" >40</text>
<line x1="132.60" y1="401.30" x2="132.60" y2="404.10" stroke="#161616" stroke-width="1" />
<text x="132.60" y="414.00" font-size="7.6" text-anchor="middle" fill="#161616" stroke="#161616" stroke-width="0.18" font-weight="normal" >60</text>
<text transform="translate(21.90,358.60) rotate(-90)" x="0" y="0" font-size="7.7" text-anchor="middle" fill="#161616" stroke="#161616" stroke-width="0.18" font-weight="normal" textLength="60.5" lengthAdjust="spacingAndGlyphs">ln (fraction negative)</text>
<text x="132.40" y="331.20" font-size="7.6" text-anchor="start" fill="#161616" stroke="#161616" stroke-width="0.18" font-weight="normal" >MPP3</text>
<line x1="48.90" y1="318.80" x2="128.50" y2="352.30" stroke="#2c6496" stroke-width="1.1" />
<line x1="48.90" y1="318.80" x2="123.60" y2="399.70" stroke="#c8102e" stroke-width="1.1" />
<line x1="48.90" y1="318.80" x2="64.70" y2="399.40" stroke="#5a3a72" stroke-width="1.1" />
<polygon points="76.80,327.70 78.50,330.76 75.10,330.76" fill="#1d2f6f"/>
<polygon points="117.70,342.50 119.40,345.56 116.00,345.56" fill="#1d2f6f"/>
<rect x="47.70" y="318.70" width="3.80" height="3.80" fill="#c8102e"/>
<rect x="52.50" y="323.40" width="3.80" height="3.80" fill="#c8102e"/>
<rect x="57.90" y="328.30" width="3.80" height="3.80" fill="#c8102e"/>
<circle cx="50.40" cy="330.20" r="1.9" fill="#3a1f5c"/>
<circle cx="54.40" cy="351.70" r="1.9" fill="#3a1f5c"/>
<circle cx="59.80" cy="375.40" r="1.9" fill="#3a1f5c"/>
<text x="97.50" y="335.60" font-size="7.6" text-anchor="start" fill="#2a5d8f" stroke="#2a5d8f" stroke-width="0.18" font-weight="normal" >Adult</text>
<text x="114.50" y="386.20" font-size="7.6" text-anchor="start" fill="#c8102e" stroke="#c8102e" stroke-width="0.18" font-weight="normal" >P0</text>
<text x="67.00" y="392.10" font-size="7.6" text-anchor="start" fill="#74408a" stroke="#74408a" stroke-width="0.18" font-weight="normal" >E16</text>
<line x1="49.90" y1="434.60" x2="138.10" y2="434.60" stroke="#111" stroke-width="1.1" stroke-dasharray="3 2"/>
<line x1="48.90" y1="432.40" x2="48.90" y2="521.40" stroke="#161616" stroke-width="1.2" />
<line x1="48.40" y1="520.90" x2="136.50" y2="520.90" stroke="#161616" stroke-width="1.2" />
<line x1="46.10" y1="434.60" x2="48.90" y2="434.60" stroke="#161616" stroke-width="1" />
<text x="43.10" y="437.30" font-size="7.6" text-anchor="end" fill="#161616" stroke="#161616" stroke-width="0.18" font-weight="normal" >0</text>
<line x1="46.10" y1="463.37" x2="48.90" y2="463.37" stroke="#161616" stroke-width="1" />
<text x="43.10" y="466.07" font-size="7.6" text-anchor="end" fill="#161616" stroke="#161616" stroke-width="0.18" font-weight="normal" >−1</text>
<line x1="46.10" y1="492.14" x2="48.90" y2="492.14" stroke="#161616" stroke-width="1" />
<text x="43.10" y="494.84" font-size="7.6" text-anchor="end" fill="#161616" stroke="#161616" stroke-width="0.18" font-weight="normal" >−2</text>
<line x1="46.10" y1="520.91" x2="48.90" y2="520.91" stroke="#161616" stroke-width="1" />
<text x="43.10" y="523.61" font-size="7.6" text-anchor="end" fill="#161616" stroke="#161616" stroke-width="0.18" font-weight="normal" >−3</text>
<line x1="48.90" y1="520.90" x2="48.90" y2="523.70" stroke="#161616" stroke-width="1" />
<text x="48.90" y="533.80" font-size="7.6" text-anchor="middle" fill="#161616" stroke="#161616" stroke-width="0.18" font-weight="normal" >0</text>
<line x1="77.24" y1="520.90" x2="77.24" y2="523.70" stroke="#161616" stroke-width="1" />
<text x="77.24" y="533.80" font-size="7.6" text-anchor="middle" fill="#161616" stroke="#161616" stroke-width="0.18" font-weight="normal" >20</text>
<line x1="105.58" y1="520.90" x2="105.58" y2="523.70" stroke="#161616" stroke-width="1" />
<text x="105.58" y="533.80" font-size="7.6" text-anchor="middle" fill="#161616" stroke="#161616" stroke-width="0.18" font-weight="normal" >40</text>
<line x1="133.92" y1="520.90" x2="133.92" y2="523.70" stroke="#161616" stroke-width="1" />
<text x="133.92" y="533.80" font-size="7.6" text-anchor="middle" fill="#161616" stroke="#161616" stroke-width="0.18" font-weight="normal" >60</text>
<text transform="translate(28.60,478.40) rotate(-90)" x="0" y="0" font-size="7.7" text-anchor="middle" fill="#161616" stroke="#161616" stroke-width="0.18" font-weight="normal" textLength="60.5" lengthAdjust="spacingAndGlyphs">ln (fraction negative)</text>
<text x="132.40" y="446.50" font-size="7.6" text-anchor="start" fill="#161616" stroke="#161616" stroke-width="0.18" font-weight="normal" >MPP4</text>
<line x1="48.90" y1="434.60" x2="129.30" y2="490.40" stroke="#285a84" stroke-width="1.1" />
<line x1="48.90" y1="434.60" x2="128.50" y2="503.60" stroke="#5a3a72" stroke-width="1.1" />
<line x1="48.90" y1="434.60" x2="128.50" y2="511.70" stroke="#c8102e" stroke-width="1.1" />
<polygon points="63.00,439.70 64.70,442.76 61.30,442.76" fill="#1d2f6f"/>
<polygon points="77.30,445.30 79.00,448.36 75.60,448.36" fill="#1d2f6f"/>
<polygon points="120.40,519.10 122.10,522.16 118.70,522.16" fill="#1d2f6f"/>
<rect x="61.10" y="447.90" width="3.80" height="3.80" fill="#c8102e"/>
<rect x="75.40" y="459.40" width="3.80" height="3.80" fill="#c8102e"/>
<rect x="104.20" y="499.30" width="3.80" height="3.80" fill="#c8102e"/>
<circle cx="63.00" cy="455.20" r="1.9" fill="#3a1f5c"/>
<circle cx="77.30" cy="455.20" r="1.9" fill="#3a1f5c"/>
<circle cx="106.10" cy="481.50" r="1.9" fill="#3a1f5c"/>
<text x="96.20" y="463.50" font-size="7.6" text-anchor="start" fill="#2a5d8f" stroke="#2a5d8f" stroke-width="0.18" font-weight="normal" >Adult</text>
<text x="129.30" y="500.40" font-size="7.6" text-anchor="start" fill="#74408a" stroke="#74408a" stroke-width="0.18" font-weight="normal" >E16</text>
<text x="111.00" y="511.70" font-size="7.6" text-anchor="start" fill="#c8102e" stroke="#c8102e" stroke-width="0.18" font-weight="normal" >P0</text>
<text x="93.5" y="546.0" font-size="8.4" text-anchor="middle" fill="#161616" stroke="#161616" stroke-width="0.18" textLength="56.8" lengthAdjust="spacingAndGlyphs">Cells plated per well</text>
<line x1="229.70" y1="198.50" x2="229.70" y2="285.80" stroke="#161616" stroke-width="1.2" />
<line x1="229.20" y1="285.30" x2="356.30" y2="285.30" stroke="#161616" stroke-width="1.2" />
<line x1="250.85" y1="285.30" x2="250.85" y2="287.80" stroke="#161616" stroke-width="1" />
<text x="250.85" y="298.60" font-size="7.6" text-anchor="middle" fill="#161616" stroke="#161616" stroke-width="0.18" font-weight="normal" >MPP2</text>
<line x1="293.15" y1="285.30" x2="293.15" y2="287.80" stroke="#161616" stroke-width="1" />
<text x="293.15" y="298.60" font-size="7.6" text-anchor="middle" fill="#161616" stroke="#161616" stroke-width="0.18" font-weight="normal" >MPP3</text>
<line x1="335.45" y1="285.30" x2="335.45" y2="287.80" stroke="#161616" stroke-width="1" />
<text x="335.45" y="298.60" font-size="7.6" text-anchor="middle" fill="#161616" stroke="#161616" stroke-width="0.18" font-weight="normal" >MPP4</text>
<line x1="226.90" y1="200.90" x2="229.70" y2="200.90" stroke="#161616" stroke-width="1" />
<text x="223.00" y="203.60" font-size="7.6" text-anchor="end" fill="#161616" stroke="#161616" stroke-width="0.18" font-weight="normal" >1</text>
<line x1="226.90" y1="243.10" x2="229.70" y2="243.10" stroke="#161616" stroke-width="1" />
<text x="223.00" y="245.80" font-size="7.6" text-anchor="end" fill="#161616" stroke="#161616" stroke-width="0.18" font-weight="normal" >0.1</text>
<line x1="226.90" y1="285.30" x2="229.70" y2="285.30" stroke="#161616" stroke-width="1" />
<text x="223.00" y="288.00" font-size="7.6" text-anchor="end" fill="#161616" stroke="#161616" stroke-width="0.18" font-weight="normal" >0.01</text>
<line x1="228.10" y1="272.60" x2="229.70" y2="272.60" stroke="#161616" stroke-width="0.7" />
<line x1="228.10" y1="265.17" x2="229.70" y2="265.17" stroke="#161616" stroke-width="0.7" />
<line x1="228.10" y1="259.89" x2="229.70" y2="259.89" stroke="#161616" stroke-width="0.7" />
<line x1="228.10" y1="255.80" x2="229.70" y2="255.80" stroke="#161616" stroke-width="0.7" />
<line x1="228.10" y1="252.46" x2="229.70" y2="252.46" stroke="#161616" stroke-width="0.7" />
<line x1="228.10" y1="249.64" x2="229.70" y2="249.64" stroke="#161616" stroke-width="0.7" />
<line x1="228.10" y1="247.19" x2="229.70" y2="247.19" stroke="#161616" stroke-width="0.7" />
<line x1="228.10" y1="245.03" x2="229.70" y2="245.03" stroke="#161616" stroke-width="0.7" />
<line x1="228.10" y1="230.40" x2="229.70" y2="230.40" stroke="#161616" stroke-width="0.7" />
<line x1="228.10" y1="222.97" x2="229.70" y2="222.97" stroke="#161616" stroke-width="0.7" />
<line x1="228.10" y1="217.69" x2="229.70" y2="217.69" stroke="#161616" stroke-width="0.7" />
<line x1="228.10" y1="213.60" x2="229.70" y2="213.60" stroke="#161616" stroke-width="0.7" />
<line x1="228.10" y1="210.26" x2="229.70" y2="210.26" stroke="#161616" stroke-width="0.7" />
<line x1="228.10" y1="207.44" x2="229.70" y2="207.44" stroke="#161616" stroke-width="0.7" />
<line x1="228.10" y1="204.99" x2="229.70" y2="204.99" stroke="#161616" stroke-width="0.7" />
<line x1="228.10" y1="202.83" x2="229.70" y2="202.83" stroke="#161616" stroke-width="0.7" />
<rect x="235.60" y="215.13" width="9.20" height="70.17" fill="#5e2470"/>
<rect x="246.25" y="260.83" width="9.20" height="24.47" fill="#d01040"/>
<rect x="256.90" y="254.06" width="9.20" height="31.24" fill="#0f4f8a"/>
<rect x="277.90" y="231.34" width="9.20" height="53.96" fill="#5e2470"/>
<rect x="288.55" y="262.34" width="9.20" height="22.96" fill="#d01040"/>
<rect x="299.20" y="280.49" width="9.20" height="4.81" fill="#0f4f8a"/>
<rect x="320.20" y="217.24" width="9.20" height="68.06" fill="#5e2470"/>
<rect x="330.85" y="215.13" width="9.20" height="70.17" fill="#d01040"/>
<rect x="341.50" y="222.36" width="9.20" height="62.94" fill="#0f4f8a"/>
<line x1="240.20" y1="201.20" x2="240.20" y2="226.40" stroke="#333" stroke-width="0.9" />
<line x1="237.90" y1="201.20" x2="242.50" y2="201.20" stroke="#333" stroke-width="0.9" />
<line x1="237.90" y1="226.40" x2="242.50" y2="226.40" stroke="#333" stroke-width="0.8" />
<line x1="250.85" y1="253.30" x2="250.85" y2="266.90" stroke="#333" stroke-width="0.9" />
<line x1="248.55" y1="253.30" x2="253.15" y2="253.30" stroke="#333" stroke-width="0.9" />
<line x1="248.55" y1="266.90" x2="253.15" y2="266.90" stroke="#333" stroke-width="0.8" />
<line x1="261.50" y1="245.40" x2="261.50" y2="261.40" stroke="#333" stroke-width="0.9" />
<line x1="259.20" y1="245.40" x2="263.80" y2="245.40" stroke="#333" stroke-width="0.9" />
<line x1="259.20" y1="261.40" x2="263.80" y2="261.40" stroke="#333" stroke-width="0.8" />
<line x1="282.50" y1="224.30" x2="282.50" y2="238.00" stroke="#333" stroke-width="0.9" />
<line x1="280.20" y1="224.30" x2="284.80" y2="224.30" stroke="#333" stroke-width="0.9" />
<line x1="280.20" y1="238.00" x2="284.80" y2="238.00" stroke="#333" stroke-width="0.8" />
<line x1="293.15" y1="249.50" x2="293.15" y2="273.00" stroke="#333" stroke-width="0.9" />
<line x1="290.85" y1="249.50" x2="295.45" y2="249.50" stroke="#333" stroke-width="0.9" />
<line x1="290.85" y1="273.00" x2="295.45" y2="273.00" stroke="#333" stroke-width="0.8" />
<line x1="303.80" y1="268.00" x2="303.80" y2="284.00" stroke="#333" stroke-width="0.9" />
<line x1="301.50" y1="268.00" x2="306.10" y2="268.00" stroke="#333" stroke-width="0.9" />
<line x1="301.50" y1="284.00" x2="306.10" y2="284.00" stroke="#333" stroke-width="0.8" />
<line x1="324.80" y1="210.10" x2="324.80" y2="223.70" stroke="#333" stroke-width="0.9" />
<line x1="322.50" y1="210.10" x2="327.10" y2="210.10" stroke="#333" stroke-width="0.9" />
<line x1="322.50" y1="223.70" x2="327.10" y2="223.70" stroke="#333" stroke-width="0.8" />
<line x1="335.45" y1="207.70" x2="335.45" y2="219.30" stroke="#333" stroke-width="0.9" />
<line x1="333.15" y1="207.70" x2="337.75" y2="207.70" stroke="#333" stroke-width="0.9" />
<line x1="333.15" y1="219.30" x2="337.75" y2="219.30" stroke="#333" stroke-width="0.8" />
<line x1="346.10" y1="214.50" x2="346.10" y2="228.00" stroke="#333" stroke-width="0.9" />
<line x1="343.80" y1="214.50" x2="348.40" y2="214.50" stroke="#333" stroke-width="0.9" />
<line x1="343.80" y1="228.00" x2="348.40" y2="228.00" stroke="#333" stroke-width="0.8" />
<text transform="translate(192.90,241.30) rotate(-90)" x="0" y="0" font-size="9.0" text-anchor="middle" fill="#161616" stroke="#161616" stroke-width="0.18" font-weight="normal" textLength="53.6" lengthAdjust="spacingAndGlyphs">Fraction generating</text>
<text transform="translate(203.20,241.30) rotate(-90)" x="0" y="0" font-size="9.0" text-anchor="middle" fill="#161616" stroke="#161616" stroke-width="0.18" font-weight="normal" textLength="46.4" lengthAdjust="spacingAndGlyphs">B-cells (limit dil)</text>
<line x1="237.80" y1="186.30" x2="261.90" y2="186.30" stroke="#444" stroke-width="1.0" />
<text x="249.85" y="185.70" font-size="7.8" text-anchor="middle" fill="#333" stroke="#333" stroke-width="0.18" font-weight="normal" >***</text>
<line x1="237.80" y1="196.30" x2="250.30" y2="196.30" stroke="#444" stroke-width="1.0" />
<text x="244.05" y="195.70" font-size="7.8" text-anchor="middle" fill="#333" stroke="#333" stroke-width="0.18" font-weight="normal" >***</text>
<line x1="280.70" y1="189.30" x2="304.80" y2="189.30" stroke="#444" stroke-width="1.0" />
<text x="292.75" y="188.70" font-size="7.8" text-anchor="middle" fill="#333" stroke="#333" stroke-width="0.18" font-weight="normal" >***</text>
<line x1="292.30" y1="199.10" x2="304.80" y2="199.10" stroke="#444" stroke-width="1.0" />
<text x="298.55" y="198.50" font-size="7.8" text-anchor="middle" fill="#333" stroke="#333" stroke-width="0.18" font-weight="normal" >*</text>
<line x1="280.70" y1="210.10" x2="293.80" y2="210.10" stroke="#444" stroke-width="1.0" />
<text x="287.25" y="209.50" font-size="7.8" text-anchor="middle" fill="#333" stroke="#333" stroke-width="0.18" font-weight="normal" >***</text>
<text x="363.60" y="201.80" font-size="7.6" text-anchor="start" fill="#74408a" stroke="#74408a" stroke-width="0.18" font-weight="normal" >E16</text>
<text x="363.60" y="213.00" font-size="7.6" text-anchor="start" fill="#c8102e" stroke="#c8102e" stroke-width="0.18" font-weight="normal" >P0</text>
<text x="363.60" y="224.30" font-size="7.6" text-anchor="start" fill="#2a5d8f" stroke="#2a5d8f" stroke-width="0.18" font-weight="normal" >Adult</text>
<line x1="229.70" y1="333.90" x2="229.70" y2="420.50" stroke="#161616" stroke-width="1.2" />
<line x1="229.20" y1="420.00" x2="356.30" y2="420.00" stroke="#161616" stroke-width="1.2" />
<line x1="250.85" y1="420.00" x2="250.85" y2="422.50" stroke="#161616" stroke-width="1" />
<text x="250.85" y="433.00" font-size="7.6" text-anchor="middle" fill="#161616" stroke="#161616" stroke-width="0.18" font-weight="normal" >MPP2</text>
<line x1="293.15" y1="420.00" x2="293.15" y2="422.50" stroke="#161616" stroke-width="1" />
<text x="293.15" y="433.00" font-size="7.6" text-anchor="middle" fill="#161616" stroke="#161616" stroke-width="0.18" font-weight="normal" >MPP3</text>
<line x1="335.45" y1="420.00" x2="335.45" y2="422.50" stroke="#161616" stroke-width="1" />
<text x="335.45" y="433.00" font-size="7.6" text-anchor="middle" fill="#161616" stroke="#161616" stroke-width="0.18" font-weight="normal" >MPP4</text>
<line x1="226.90" y1="420.00" x2="229.70" y2="420.00" stroke="#161616" stroke-width="1" />
<text x="225.40" y="422.70" font-size="7.6" text-anchor="end" fill="#161616" stroke="#161616" stroke-width="0.18" font-weight="normal" >0.0</text>
<line x1="226.90" y1="403.18" x2="229.70" y2="403.18" stroke="#161616" stroke-width="1" />
<text x="225.40" y="405.88" font-size="7.6" text-anchor="end" fill="#161616" stroke="#161616" stroke-width="0.18" font-weight="normal" >0.2</text>
<line x1="226.90" y1="386.36" x2="229.70" y2="386.36" stroke="#161616" stroke-width="1" />
<text x="225.40" y="389.06" font-size="7.6" text-anchor="end" fill="#161616" stroke="#161616" stroke-width="0.18" font-weight="normal" >0.4</text>
<line x1="226.90" y1="369.54" x2="229.70" y2="369.54" stroke="#161616" stroke-width="1" />
<text x="225.40" y="372.24" font-size="7.6" text-anchor="end" fill="#161616" stroke="#161616" stroke-width="0.18" font-weight="normal" >0.6</text>
<line x1="226.90" y1="352.72" x2="229.70" y2="352.72" stroke="#161616" stroke-width="1" />
<text x="225.40" y="355.42" font-size="7.6" text-anchor="end" fill="#161616" stroke="#161616" stroke-width="0.18" font-weight="normal" >0.8</text>
<line x1="226.90" y1="335.90" x2="229.70" y2="335.90" stroke="#161616" stroke-width="1" />
<text x="225.40" y="338.60" font-size="7.6" text-anchor="end" fill="#161616" stroke="#161616" stroke-width="0.18" font-weight="normal" >1.0</text>
<rect x="235.60" y="369.54" width="9.20" height="50.46" fill="#5e2470"/>
<rect x="246.25" y="399.82" width="9.20" height="20.18" fill="#d01040"/>
<rect x="256.90" y="396.45" width="9.20" height="23.55" fill="#0f4f8a"/>
<rect x="277.90" y="349.36" width="9.20" height="70.64" fill="#5e2470"/>
<rect x="288.55" y="397.29" width="9.20" height="22.71" fill="#d01040"/>
<rect x="299.20" y="401.50" width="9.20" height="18.50" fill="#0f4f8a"/>
<rect x="320.20" y="390.14" width="9.20" height="29.86" fill="#5e2470"/>
<rect x="330.85" y="391.83" width="9.20" height="28.17" fill="#d01040"/>
<rect x="341.50" y="374.59" width="9.20" height="45.41" fill="#0f4f8a"/>
<text transform="translate(197.40,376.20) rotate(-90)" x="0" y="0" font-size="9.0" text-anchor="middle" fill="#161616" stroke="#161616" stroke-width="0.18" font-weight="normal" textLength="63.3" lengthAdjust="spacingAndGlyphs">Fraction of single cells</text>
<text transform="translate(208.20,376.20) rotate(-90)" x="0" y="0" font-size="9.0" text-anchor="middle" fill="#161616" stroke="#161616" stroke-width="0.18" font-weight="normal" textLength="49.8" lengthAdjust="spacingAndGlyphs">generating T-cells</text>
<line x1="240.00" y1="342.40" x2="263.40" y2="342.40" stroke="#444" stroke-width="1.0" />
<text x="251.70" y="341.80" font-size="7.8" text-anchor="middle" fill="#333" stroke="#333" stroke-width="0.18" font-weight="normal" >***</text>
<line x1="240.00" y1="352.70" x2="252.00" y2="352.70" stroke="#444" stroke-width="1.0" />
<text x="246.00" y="352.10" font-size="7.8" text-anchor="middle" fill="#333" stroke="#333" stroke-width="0.18" font-weight="normal" >***</text>
<line x1="283.30" y1="333.60" x2="307.00" y2="333.60" stroke="#444" stroke-width="1.0" />
<text x="295.15" y="333.00" font-size="7.8" text-anchor="middle" fill="#333" stroke="#333" stroke-width="0.18" font-weight="normal" >***</text>
<line x1="283.30" y1="343.40" x2="295.60" y2="343.40" stroke="#444" stroke-width="1.0" />
<text x="289.45" y="342.80" font-size="7.8" text-anchor="middle" fill="#333" stroke="#333" stroke-width="0.18" font-weight="normal" >***</text>
<text x="338.70" y="346.00" font-size="7.6" text-anchor="start" fill="#161616" stroke="#161616" stroke-width="0.18" font-weight="normal" >N.S.</text>
<text x="363.60" y="336.30" font-size="7.6" text-anchor="start" fill="#74408a" stroke="#74408a" stroke-width="0.18" font-weight="normal" >E16</text>
<text x="363.60" y="347.60" font-size="7.6" text-anchor="start" fill="#c8102e" stroke="#c8102e" stroke-width="0.18" font-weight="normal" >P0</text>
<text x="363.60" y="358.90" font-size="7.6" text-anchor="start" fill="#2a5d8f" stroke="#2a5d8f" stroke-width="0.18" font-weight="normal" >Adult</text>
<line x1="192.30" y1="464.70" x2="477.50" y2="464.70" stroke="#3a3a3a" stroke-width="1.3" />
<line x1="192.30" y1="512.30" x2="477.50" y2="512.30" stroke="#3a3a3a" stroke-width="1.3" />
<line x1="192.30" y1="560.30" x2="477.50" y2="560.30" stroke="#3a3a3a" stroke-width="1.3" />
<line x1="218.60" y1="464.70" x2="218.60" y2="560.30" stroke="#111" stroke-width="1.0" stroke-dasharray="3 2.2"/>
<line x1="274.30" y1="464.70" x2="274.30" y2="560.30" stroke="#111" stroke-width="1.0" stroke-dasharray="3 2.2"/>
<line x1="322.60" y1="464.70" x2="322.60" y2="560.30" stroke="#111" stroke-width="1.0" stroke-dasharray="3 2.2"/>
<path d="M195.00,470.80 L196.70,470.81 L198.40,470.81 L200.09,470.81 L201.79,470.81 L203.49,470.82 L205.19,470.82 L206.88,470.83 L208.58,470.83 L210.28,470.84 L211.97,470.86 L213.67,470.87 L215.37,470.89 L217.07,470.92 L218.77,470.96 L220.46,471.00 L222.16,471.06 L223.86,471.14 L225.56,471.23 L227.25,471.36 L228.95,471.51 L230.65,471.72 L232.34,471.97 L234.04,472.29 L235.74,472.70 L237.44,473.20 L239.13,473.82 L240.83,474.56 L242.53,475.45 L244.23,476.50 L245.93,477.69 L247.62,479.03 L249.32,480.48 L251.02,482.00 L252.72,483.55 L254.41,485.09 L256.11,486.55 L257.81,487.90 L259.50,489.12 L261.20,490.19 L262.90,491.11 L264.60,491.88 L266.30,492.51 L267.99,493.03 L269.69,493.45 L271.39,493.78 L273.09,494.05 L274.78,494.26 L276.48,494.42 L278.18,494.55 L279.88,494.65 L281.57,494.73 L283.27,494.79 L284.97,494.84 L286.67,494.87 L288.36,494.90 L290.06,494.92 L291.76,494.94 L293.46,494.95 L295.15,494.97 L296.85,494.97 L298.55,494.98 L300.25,494.98 L301.94,494.99 L303.64,494.99 L305.34,494.99 L307.04,494.99 L308.73,495.00 L310.43,495.00 L312.13,495.00 L313.82,495.00 L315.52,495.00 L317.22,495.00 L318.92,495.00 L320.62,495.00 L322.31,495.00 L324.01,495.00 L325.71,495.00 L327.41,495.00 L329.10,495.00 L330.80,495.00" fill="none" stroke="#4fae4f" stroke-width="1.1"/>
<path d="M195.00,472.31 L196.70,472.31 L198.40,472.31 L200.09,472.31 L201.79,472.31 L203.49,472.32 L205.19,472.32 L206.88,472.33 L208.58,472.34 L210.28,472.35 L211.97,472.37 L213.67,472.39 L215.37,472.42 L217.07,472.45 L218.77,472.49 L220.46,472.55 L222.16,472.62 L223.86,472.71 L225.56,472.83 L227.25,472.98 L228.95,473.18 L230.65,473.42 L232.34,473.73 L234.04,474.12 L235.74,474.60 L237.44,475.20 L239.13,475.92 L240.83,476.79 L242.53,477.80 L244.23,478.97 L245.93,480.29 L247.62,481.72 L249.32,483.23 L251.02,484.78 L252.72,486.32 L254.41,487.80 L256.11,489.18 L257.81,490.42 L259.50,491.51 L261.20,492.46 L262.90,493.25 L264.60,493.91 L266.30,494.45 L267.99,494.88 L269.69,495.23 L271.39,495.51 L273.09,495.72 L274.78,495.90 L276.48,496.03 L278.18,496.13 L279.88,496.22 L281.57,496.28 L283.27,496.33 L284.97,496.37 L286.67,496.40 L288.36,496.42 L290.06,496.44 L291.76,496.45 L293.46,496.46 L295.15,496.47 L296.85,496.48 L298.55,496.48 L300.25,496.49 L301.94,496.49 L303.64,496.49 L305.34,496.49 L307.04,496.50 L308.73,496.50 L310.43,496.50 L312.13,496.50 L313.82,496.50 L315.52,496.50 L317.22,496.50 L318.92,496.50 L320.62,496.50 L322.31,496.50 L324.01,496.50 L325.71,496.50 L327.41,496.50 L329.10,496.50 L330.80,496.50" fill="none" stroke="#4bb3e0" stroke-width="1.1"/>
<path d="M195.5,469.9 L330.8,468.4" fill="none" stroke="#c8184a" stroke-width="1.1"/>
<path d="M195.00,539.97 L196.13,540.00 L197.26,540.03 L198.40,540.07 L199.53,540.11 L200.66,540.15 L201.79,540.19 L202.92,540.24 L204.05,540.29 L205.19,540.34 L206.32,540.40 L207.45,540.46 L208.58,540.53 L209.71,540.60 L210.84,540.67 L211.97,540.75 L213.11,540.84 L214.24,540.93 L215.37,541.03 L216.50,541.13 L217.63,541.24 L218.76,541.36 L219.90,541.48 L221.03,541.61 L222.16,541.75 L223.29,541.89 L224.42,542.04 L225.56,542.20 L226.69,542.36 L227.82,542.53 L228.95,542.71 L230.08,542.89 L231.21,543.08 L232.34,543.28 L233.48,543.48 L234.61,543.68 L235.74,543.89 L236.87,544.10 L238.00,544.32 L239.13,544.54 L240.27,544.76 L241.40,544.98 L242.53,545.20 L243.66,545.43 L244.79,545.65 L245.93,545.87 L247.06,546.08 L248.19,546.30 L249.32,546.51 L250.45,546.71 L251.58,546.91 L252.72,547.11 L253.85,547.30 L254.98,547.48 L256.11,547.66 L257.24,547.83 L258.37,547.99 L259.50,548.15 L260.64,548.30 L261.77,548.44 L262.90,548.58 L264.03,548.71 L265.16,548.83 L266.30,548.95 L267.43,549.06 L268.56,549.17 L269.69,549.26 L270.82,549.36 L271.95,549.44 L273.09,549.52 L274.22,549.60 L275.35,549.67 L276.48,549.74 L277.61,549.80 L278.74,549.86 L279.88,549.91 L281.01,549.96 L282.14,550.01 L283.27,550.05 L284.40,550.09 L285.53,550.13 L286.67,550.17 L287.80,550.20 L288.93,550.23 L290.06,550.26 L291.19,550.28 L292.32,550.31 L293.45,550.33 L294.59,550.35 L295.72,550.37 L296.85,550.39 L297.98,550.40 L299.11,550.42 L300.25,550.43 L301.38,550.44 L302.51,550.46 L303.64,550.47 L304.77,550.48 L305.90,550.49 L307.04,550.50 L308.17,550.50 L309.30,550.51 L310.43,550.52 L311.56,550.52 L312.69,550.53 L313.83,550.54 L314.96,550.54 L316.09,550.54 L317.22,550.55 L318.35,550.55 L319.48,550.56 L320.62,550.56 L321.75,550.56 L322.88,550.57 L324.01,550.57 L325.14,550.57 L326.27,550.57 L327.41,550.58 L328.54,550.58 L329.67,550.58 L330.80,550.58" fill="none" stroke="#4bb3e0" stroke-width="1.1"/>
<path d="M195.00,522.00 L196.13,522.04 L197.26,522.08 L198.40,522.12 L199.53,522.16 L200.66,522.20 L201.79,522.24 L202.92,522.28 L204.05,522.32 L205.19,522.36 L206.32,522.40 L207.45,522.44 L208.58,522.48 L209.71,522.51 L210.84,522.55 L211.97,522.59 L213.11,522.63 L214.24,522.67 L215.37,522.71 L216.50,522.75 L217.63,522.79 L218.76,522.83 L219.90,522.87 L221.03,522.91 L222.16,522.95 L223.29,522.99 L224.42,523.03 L225.56,523.07 L226.69,523.11 L227.82,523.15 L228.95,523.19 L230.08,523.23 L231.21,523.27 L232.34,523.31 L233.48,523.35 L234.61,523.39 L235.74,523.43 L236.87,523.47 L238.00,523.51 L239.13,523.54 L240.27,523.58 L241.40,523.62 L242.53,523.66 L243.66,523.70 L244.79,523.74 L245.93,523.78 L247.06,523.82 L248.19,523.86 L249.32,523.90 L250.45,523.94 L251.58,523.98 L252.72,524.02 L253.85,524.06 L254.98,524.10 L256.11,524.14 L257.24,524.18 L258.37,524.22 L259.50,524.26 L260.64,524.30 L261.77,524.34 L262.90,524.38 L264.03,524.42 L265.16,524.46 L266.30,524.50 L267.43,524.54 L268.56,524.58 L269.69,524.62 L270.82,524.66 L271.95,524.70 L273.09,524.74 L274.22,524.78 L275.35,524.83 L276.48,524.88 L277.61,524.93 L278.74,524.99 L279.88,525.06 L281.01,525.15 L282.14,525.27 L283.27,525.43 L284.40,525.65 L285.53,525.96 L286.67,526.41 L287.80,527.04 L288.93,527.94 L290.06,529.16 L291.19,530.77 L292.32,532.74 L293.45,534.98 L294.59,537.33 L295.72,539.57 L296.85,541.53 L297.98,543.12 L299.11,544.33 L300.25,545.22 L301.38,545.84 L302.51,546.28 L303.64,546.59 L304.77,546.81 L305.90,546.97 L307.04,547.08 L308.17,547.17 L309.30,547.24 L310.43,547.30 L311.56,547.35 L312.69,547.40 L313.83,547.45 L314.96,547.49 L316.09,547.53 L317.22,547.57 L318.35,547.62 L319.48,547.66 L320.62,547.70 L321.75,547.74 L322.88,547.78 L324.01,547.82 L325.14,547.85 L326.27,547.89 L327.41,547.93 L328.54,547.97 L329.67,548.01 L330.80,548.05" fill="none" stroke="#4fae4f" stroke-width="1.1"/>
<path d="M195.00,520.20 L196.13,520.24 L197.26,520.28 L198.40,520.32 L199.53,520.36 L200.66,520.40 L201.79,520.44 L202.92,520.49 L204.05,520.53 L205.19,520.57 L206.32,520.61 L207.45,520.65 L208.58,520.69 L209.71,520.73 L210.84,520.77 L211.97,520.81 L213.11,520.85 L214.24,520.89 L215.37,520.93 L216.50,520.97 L217.63,521.01 L218.76,521.06 L219.90,521.10 L221.03,521.14 L222.16,521.18 L223.29,521.22 L224.42,521.26 L225.56,521.30 L226.69,521.34 L227.82,521.38 L228.95,521.42 L230.08,521.46 L231.21,521.50 L232.34,521.54 L233.48,521.59 L234.61,521.63 L235.74,521.67 L236.87,521.71 L238.00,521.75 L239.13,521.79 L240.27,521.83 L241.40,521.87 L242.53,521.91 L243.66,521.95 L244.79,521.99 L245.93,522.03 L247.06,522.08 L248.19,522.12 L249.32,522.16 L250.45,522.20 L251.58,522.24 L252.72,522.28 L253.85,522.32 L254.98,522.36 L256.11,522.40 L257.24,522.44 L258.37,522.49 L259.50,522.53 L260.64,522.57 L261.77,522.61 L262.90,522.65 L264.03,522.69 L265.16,522.74 L266.30,522.78 L267.43,522.82 L268.56,522.86 L269.69,522.91 L270.82,522.95 L271.95,522.99 L273.09,523.04 L274.22,523.08 L275.35,523.13 L276.48,523.18 L277.61,523.23 L278.74,523.28 L279.88,523.33 L281.01,523.39 L282.14,523.45 L283.27,523.53 L284.40,523.61 L285.53,523.70 L286.67,523.82 L287.80,523.97 L288.93,524.16 L290.06,524.42 L291.19,524.76 L292.32,525.22 L293.45,525.83 L294.59,526.62 L295.72,527.61 L296.85,528.78 L297.98,530.10 L299.11,531.46 L300.25,532.78 L301.38,533.97 L302.51,534.98 L303.64,535.80 L304.77,536.46 L305.90,536.98 L307.04,537.39 L308.17,537.73 L309.30,538.01 L310.43,538.26 L311.56,538.48 L312.69,538.68 L313.83,538.87 L314.96,539.05 L316.09,539.22 L317.22,539.39 L318.35,539.54 L319.48,539.69 L320.62,539.83 L321.75,539.96 L322.88,540.09 L324.01,540.21 L325.14,540.32 L326.27,540.42 L327.41,540.52 L328.54,540.61 L329.67,540.70 L330.80,540.78" fill="none" stroke="#c8184a" stroke-width="1.1"/>
<text x="335.00" y="475.30" font-size="7.6" text-anchor="start" fill="#c8184a" stroke="#c8184a" stroke-width="0.18" font-weight="normal" >MPP4</text>
<text x="335.00" y="490.00" font-size="7.6" text-anchor="start" fill="#4fae4f" stroke="#4fae4f" stroke-width="0.18" font-weight="normal" >MPP3</text>
<text x="335.00" y="502.30" font-size="7.6" text-anchor="start" fill="#4bb3e0" stroke="#4bb3e0" stroke-width="0.18" font-weight="normal" >MPP2</text>
<text x="335.00" y="536.00" font-size="7.6" text-anchor="start" fill="#c8184a" stroke="#c8184a" stroke-width="0.18" font-weight="normal" >MPP4</text>
<text x="335.00" y="546.00" font-size="7.6" text-anchor="start" fill="#4fae4f" stroke="#4fae4f" stroke-width="0.18" font-weight="normal" >MPP3</text>
<text x="335.00" y="554.20" font-size="7.6" text-anchor="start" fill="#4bb3e0" stroke="#4bb3e0" stroke-width="0.18" font-weight="normal" >MPP2</text>
<text x="372.60" y="487.60" font-size="7.35" text-anchor="start" fill="#161616" stroke="#161616" stroke-width="0.18" font-weight="normal" >Lymphoid potential</text>
<text x="372.60" y="522.20" font-size="7.35" text-anchor="start" fill="#161616" stroke="#161616" stroke-width="0.18" font-weight="normal" >Monocyte</text>
<text x="372.60" y="556.30" font-size="7.35" text-anchor="start" fill="#161616" stroke="#161616" stroke-width="0.18" font-weight="normal" >Granulocyte-Monocyte</text>
<path d="M393.4,531 L393.4,544" stroke="#000" stroke-width="1.2"/>
<polygon points="393.4,527.6 390.6,532.6 396.2,532.6" fill="#000"/>
<polygon points="393.4,547.4 390.6,542.4 396.2,542.4" fill="#000"/>
<text x="218.80" y="573.00" font-size="7.6" text-anchor="middle" fill="#161616" stroke="#161616" stroke-width="0.18" font-weight="normal" >E16</text>
<text x="275.20" y="573.00" font-size="7.6" text-anchor="middle" fill="#161616" stroke="#161616" stroke-width="0.18" font-weight="normal" >P0</text>
<text x="322.30" y="573.00" font-size="7.6" text-anchor="middle" fill="#161616" stroke="#161616" stroke-width="0.18" font-weight="normal" >Adult</text>
<line x1="265.00" y1="582.50" x2="297.80" y2="582.50" stroke="#444" stroke-width="1.2" />
<text x="301.00" y="585.10" font-size="7.4" text-anchor="start" fill="#161616" stroke="#161616" stroke-width="0.18" font-weight="normal" >IFN-1 pulse</text>
<rect x="0.5" y="0.5" width="519" height="592" fill="none" stroke="#555" stroke-width="1"/>
</svg>
</body></html>
